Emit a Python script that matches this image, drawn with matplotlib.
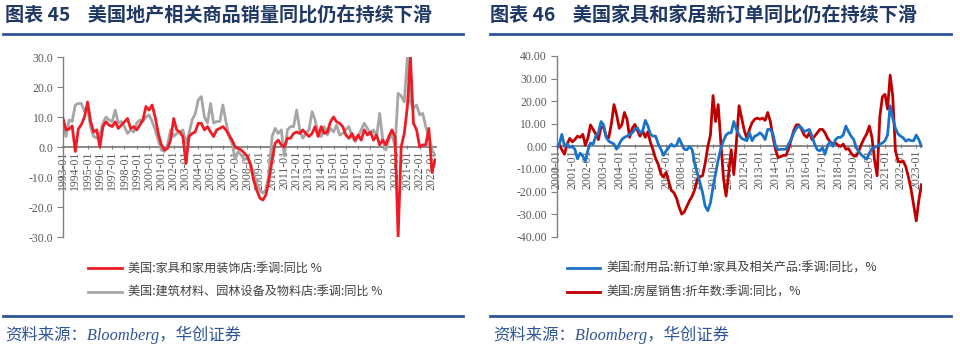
import numpy as np
import pandas as pd
import matplotlib
matplotlib.use("Agg")
import matplotlib.pyplot as plt
import matplotlib.dates as mdates
from matplotlib.lines import Line2D
from matplotlib.ticker import FormatStrFormatter, MultipleLocator

plt.rcParams['font.family'] = ['Noto Sans CJK SC', 'DejaVu Sans']

# ---------------------------------------------------------------
# Data (quarterly / bi-monthly samples)
# ---------------------------------------------------------------
# Left panel: quarterly from 1993-01
furniture_store_yoy = [
    9.5, 5.7, 6, 7, -1.5, 6, 7.5, 10, 15, 8.5, 5, 5.7, 0, 6.8, 8.4, 7.3,
    6.8, 8.4, 6.2, 7.3, 8.4, 9.5, 6.2, 6.8, 5.7, 7.3, 9, 13.5, 12.3, 14, 10, 4.5,
    0.7, -1, -0.5, 2.3, 9.5, 5.7, 5, 3.5, -5.5, 3.5, 4.5, 5, 7.9, 7.9, 5.7, 6.8,
    5, 3.5, 5.7, 6.2, 6.8, 5.7, 4, 2.3, 0, -0.5, -1, -2, -3.2, -6, -11, -14.3,
    -17, -17.7, -16, -11, -4.3, 1.2, 2.3, 0.7, 0, 2.9, 2.9, 4.5, 5, 4.5, 5.7, 4.5,
    3.5, 4.5, 6.8, 3.5, 6.8, 4.5, 5, 8.4, 10, 8.4, 7.9, 6.8, 4, 2.9, 4.5, 2.3,
    4, 2.3, 5.7, 4, 5, 2.3, 4, 0.7, 2.3, 0.7, 3.5, 5.7, 3.5, -30, 0, 4.5,
    13.5, 30, 7.9, 5.7, 0, 0.7, 0.7, 6.2, -8.5, -4.3,
]
building_store_yoy = [
    8, 3.5, 9, 8.5, 14, 14.5, 14.5, 12, 13, 6.7, 3.5, 3, 4, 8, 10, 9,
    8.5, 12.3, 8, 8.5, 6.8, 4.5, 5.7, 5, 8, 9, 8.5, 10, 10.7, 8.5, 5.7, 2.3,
    -1, -1.5, 0.7, 5.7, 3.5, 4.5, 5, 5.7, 1.2, 4.5, 9, 11, 15.7, 16.8, 10, 8,
    14.5, 8, 8.5, 8.5, 14, 8.5, 3.5, 1.2, -4, -1.5, -2.7, -4.3, -3.2, -5.4, -8.8, -12,
    -14.3, -15.4, -14.3, -8.8, 3.5, 6.2, 4.5, 5.7, -3, 5.7, 6.8, 6.8, 12.3, 5.7, 2.9, 4.5,
    5.7, 11.8, 9, 4.5, 3.5, 6.8, 4, 6.2, 5, 7.3, 4, 4.5, 5.7, 6.8, 3.5, 1.8,
    3.5, 5.7, 7.9, 6.2, 4.5, 5.7, 3.5, 11.2, 2.3, -1, 2.3, 4.5, 0, 17.9, 17, 15,
    30, 15, 12.9, 14, 10.7, 11.2, 6.8, 3.5, -1, -2.7,
]
left_dates = pd.date_range("1993-01-01", periods=len(furniture_store_yoy), freq="QS")

# Right panel: bi-monthly from 2000-01
furniture_orders_yoy = [
    -1.3, 1, 5.3, 0, 1, -0.5, 0, -1.3, -5.5, -3, -4.3, -6.5,
    -1.5, 1.5, 1, 4.5, 6, 11, 9.5, 4, 2.3, 1.6, 1, -1.3,
    1, 3, 4, 4.5, 5.3, 6, 7.5, 8.2, 6, 6.8, 11.5, 9,
    5.3, 4.5, 4.5, 1, -1.3, -4, -2, -0.6, 1, 0, 0.5, 3.5,
    1, -1.3, -1.5, 0, -1.5, -8, -12, -16, -20.5, -26.5, -28.5, -25,
    -18, -12, -6, -1, 2.5, 5, 6, 6, 11, 7.5, 5, 3.5,
    3, 2.5, 6, 2.5, 4.5, 5, 6, 5, 3, 7.5, 7.5, 5.5,
    0, -1.5, -1.3, -1.3, -1.3, 1, 3, 6, 8, 9, 8.2, 6.5,
    7, 7.5, 4.5, 1, -1.5, -2, -0.6, -3.5, 0.5, 2, 0, 3,
    4, 4, 5, 9, 6.5, 4.5, 3, -0.6, -2.5, -3.8, -4.8, -5.7,
    -3, -1, -0.5, 0, 1, 1.5, 2.5, 5, 18, 12.5, 8, 5.5,
    4.5, 3.8, 2.3, 3, 2.5, 2.5, 5, 3, 0,
]
home_sales_yoy = [
    0, 1, -1.5, -3.5, 1, 3.5, 2, 3, 4.5, 4, 5.3, 0.5,
    3.8, 9.5, 7.5, 5.5, 3, 8.5, 8.5, 4.5, 3.8, 10, 18.5, 14,
    8, 9.5, 15, 12, 4, 8, 9.7, 7, 4.5, 7, 4, 6.5,
    1.6, -1.5, -5.5, -8, -12.3, -13.5, -11.5, -15.5, -19.5, -20.5, -23, -27,
    -30, -29, -26.5, -24, -22, -19, -14.5, -13.5, -13, -7.5, 0, 5,
    22.5, 11, 18.5, 2, -14, -22, -12, -1.5, -12.5, 2, 18, 12.5,
    7, 3.5, 7.5, 10.5, 12, 12.5, 12, 12.5, 11.5, 15, 11, 4,
    -1.5, -5, -4.5, -4, -4, -1, 3, 7, 9.5, 9.5, 7.5, 5,
    4, 6, 3, 4.5, 6, 7.5, 7.5, 6, 3.5, 2, 1, 1.5,
    0.5, 0, 1, -1.3, -1, -3, -4.3, -4.3, -2, 1, 3.5, 5.5,
    9, 4, -6, -13, 13, 22, 23, 16.5, 31.5, 22, -2, -6.5,
    -7, -6.5, -9, -13.5, -19, -26, -33, -24, -17,
]
right_dates = pd.date_range("2000-01-01", periods=len(home_sales_yoy), freq="2MS")

left_labels = ["美国:家具和家用装饰店:季调:同比 %", "美国:建筑材料、园林设备及物料店:季调:同比 %"]
right_labels = ["美国:耐用品:新订单:家具及相关产品:季调:同比，%", "美国:房屋销售:折年数:季调:同比，%"]

# ---------------------------------------------------------------
W, H = 960, 351
fig = plt.figure(figsize=(W / 100, H / 100), dpi=100)

def fx(px):
    return px / W

def fy(py):
    return 1 - py / H

title_color = "#1F3864"
rule_color = "#2F5597"
tick_color = "#595959"
axis_color = "#808080"


def style_axis(ax, ylim, step, fmt, x0, x1):
    ax.set_ylim(*ylim)
    ax.set_xlim(pd.Timestamp(x0), pd.Timestamp(x1))
    ax.yaxis.set_major_locator(MultipleLocator(step))
    ax.yaxis.set_major_formatter(FormatStrFormatter(fmt))
    ax.xaxis.set_major_locator(mdates.YearLocator(1, month=1, day=1))
    ax.xaxis.set_major_formatter(mdates.DateFormatter("%Y-%m"))
    for s in ["top", "right"]:
        ax.spines[s].set_visible(False)
    ax.spines["bottom"].set_position(("data", 0))
    ax.spines["bottom"].set_color(axis_color)
    ax.spines["bottom"].set_linewidth(1.3)
    ax.spines["left"].set_color(axis_color)
    ax.spines["left"].set_linewidth(1.0)
    ax.spines["bottom"].set_zorder(1)
    ax.tick_params(axis="y", colors=axis_color, labelcolor=tick_color, length=4,
                   width=0.8, labelsize=8.5, pad=3)
    ax.tick_params(axis="x", colors=axis_color, labelcolor=tick_color, length=3,
                   direction="inout", width=0.8, labelsize=8.5, pad=1, labelrotation=90)
    for lab in ax.get_xticklabels() + ax.get_yticklabels():
        lab.set_family("Liberation Serif")
    ax.patch.set_visible(False)


# Left panel
axL = fig.add_axes([fx(63), fy(237), fx(436) - fx(63), fy(57) - fy(237)])
axL.plot(left_dates, building_store_yoy, color="#A6A6A6", lw=2.0, zorder=2)
axL.plot(left_dates, furniture_store_yoy, color="#EE1C25", lw=2.0, zorder=3)
style_axis(axL, (-30, 30), 10, "%.1f", "1993-01-01", "2023-05-01")

# Right panel
axR = fig.add_axes([fx(556.7), fy(236.7), fx(922) - fx(556.7), fy(56) - fy(236.7)])
axR.plot(right_dates, furniture_orders_yoy, color="#1A73C6", lw=2.0, zorder=3)
axR.plot(right_dates, home_sales_yoy, color="#C00000", lw=2.0, zorder=2)
style_axis(axR, (-40, 40), 10, "%.2f", "2000-01-01", "2023-05-15")

# Titles and rules
fig.text(fx(5), fy(16), "图表 45    美国地产相关商品销量同比仍在持续下滑", fontsize=13.8,
         fontweight="bold", color=title_color, va="center", ha="left")
fig.text(fx(490), fy(16), "图表 46    美国家具和家居新订单同比仍在持续下滑", fontsize=13.8,
         fontweight="bold", color=title_color, va="center", ha="left")
for x0, x1, y in [(3, 463, 33.5), (490, 951, 33.5), (3, 463, 316), (490, 951, 316)]:
    fig.add_artist(Line2D([fx(x0), fx(x1)], [fy(y), fy(y)], color=rule_color, lw=2.0))

# Legends
legend_rows = [
    (88, 122, 128, left_labels, ["#EE1C25", "#A6A6A6"]),
    (567, 600, 606, right_labels, ["#1A73C6", "#C00000"]),
]
for lx0, lx1, tx, labels, colors in legend_rows:
    for y, lab, c in zip([268, 292], labels, colors):
        fig.add_artist(Line2D([fx(lx0), fx(lx1)], [fy(y), fy(y)], color=c, lw=2.0))
        fig.text(fx(tx), fy(y), lab, fontsize=8.7, color="#404040", va="center", ha="left")

# Source notes
for x in [5, 493]:
    fig.text(fx(x), fy(335), "资料来源：Bloomberg，华创证券", fontsize=11.8, style="italic",
             color=rule_color, va="center", ha="left",
             family=["Liberation Serif", "Noto Sans CJK SC"])

fig.savefig("out.png", dpi=100)
